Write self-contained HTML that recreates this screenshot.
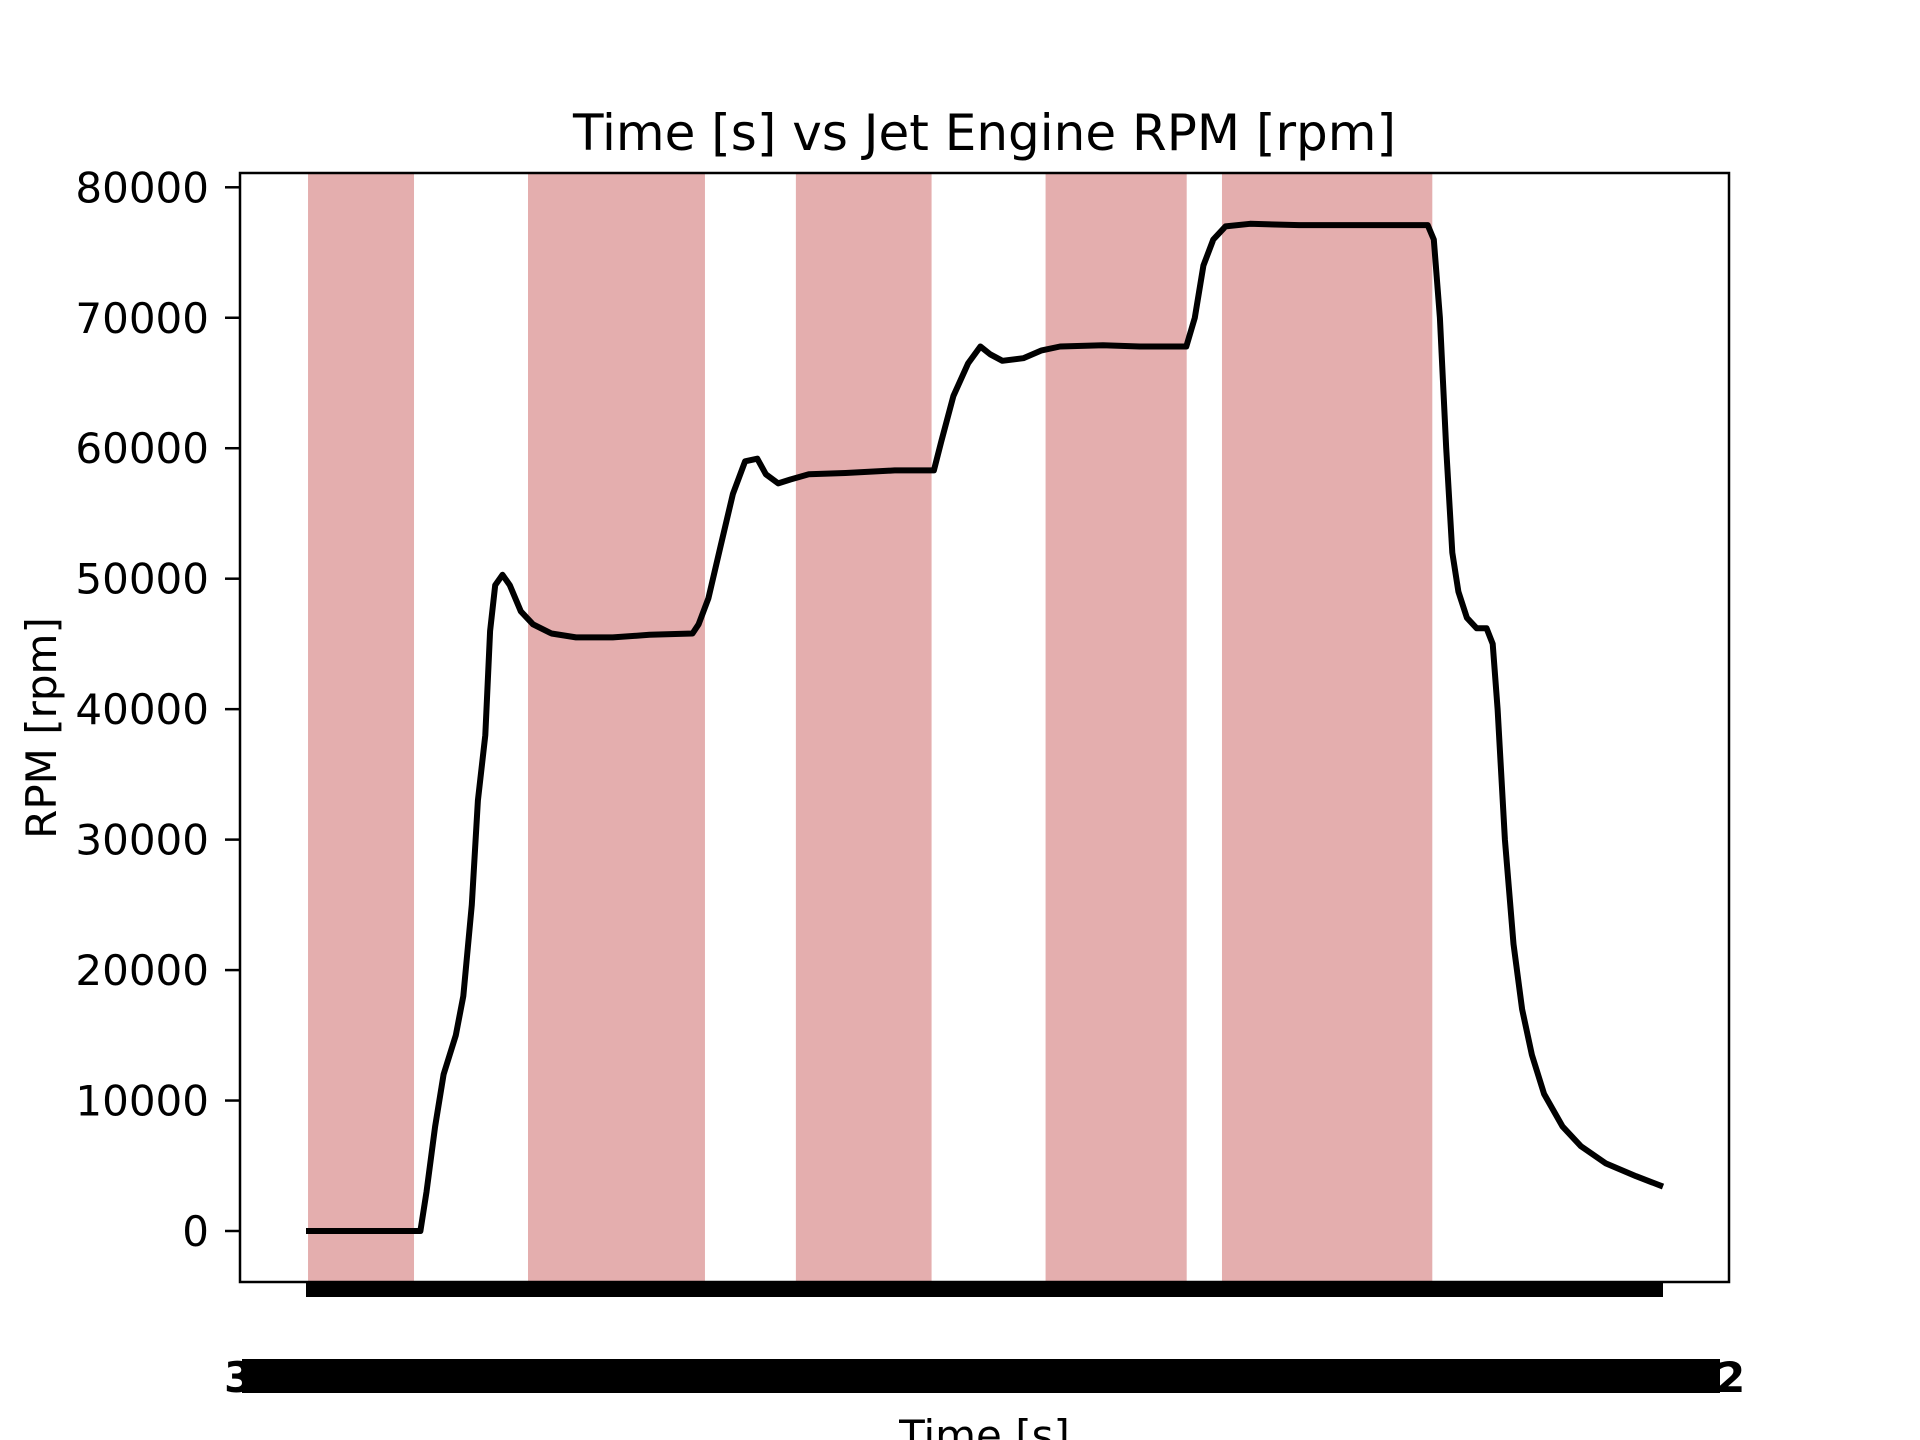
<!DOCTYPE html>
<html><head><meta charset="utf-8"><style>
html,body{margin:0;padding:0;background:#fff;}
svg{display:block;font-family:"DejaVu Sans","Liberation Sans",sans-serif;}
</style></head><body>
<svg id="chart" width="1920" height="1440" viewBox="0 0 1920 1440" xmlns="http://www.w3.org/2000/svg">
<rect width="1920" height="1440" fill="#fff"/>
<text x="984.5" y="150" font-size="50" text-anchor="middle" fill="#000">Time [s] vs Jet Engine RPM [rpm]</text>
<g id="bands"></g>
<g id="yaxis"></g>
<g id="series"></g>
<rect x="240" y="173" width="1489" height="1109" fill="none" stroke="#000" stroke-width="2.5"/>
<rect x="306" y="1283" width="1357" height="14" fill="#000"/>
<rect x="242" y="1359" width="1478" height="34" fill="#000"/>
<text x="224" y="1392" font-size="42" font-weight="bold" fill="#000">3</text>
<text x="1716" y="1392" font-size="42" font-weight="bold" fill="#000">2</text>
<text x="984.5" y="1450" font-size="42" text-anchor="middle" fill="#000">Time [s]</text>
<text transform="translate(56,728) rotate(-90)" font-size="42" text-anchor="middle" fill="#000">RPM [rpm]</text>
</svg>
<script>
const times = [0,8.43,8.88,9.51,10.14,11.04,11.59,12.22,12.67,13.21,13.57,13.94,14.48,15.02,15.83,16.73,18.09,19.90,22.61,25.31,28.48,28.93,29.65,30.55,31.46,32.36,33.26,33.89,34.80,35.70,37.05,39.76,43.38,46.27,46.81,47.71,48.79,49.70,50.42,51.32,52.86,54.21,55.57,58.73,61.44,64.87,65.50,66.13,66.86,67.76,69.57,73.18,76.79,81.31,82.66,83.11,83.56,84.02,84.47,84.92,85.55,86.27,87.00,87.45,87.81,88.35,88.98,89.62,90.34,91.24,92.60,93.95,95.76,98.02,100];
const rpm = [0,0,3000,8000,12000,15000,18000,25000,33000,38000,46000,49500,50300,49500,47500,46500,45800,45500,45500,45700,45800,46500,48500,52500,56500,59000,59200,58000,57300,57600,58000,58100,58300,58300,60500,64000,66500,67800,67200,66700,66900,67500,67800,67900,67800,67800,70000,74000,76000,77000,77200,77100,77100,77100,77100,76000,70000,60000,52000,49000,47000,46200,46200,45000,40000,30000,22000,17000,13500,10500,8000,6500,5200,4200,3400];
const bandStarts = [0.15,16.36,36.1,54.5,67.5];
const bandEnds = [7.96,29.40,46.1,64.9,83.0];
const yTicks = [0,10000,20000,30000,40000,50000,60000,70000,80000];

const NS = "http://www.w3.org/2000/svg";
function xScale(t){ return 306 + t * (1663 - 306) / 100; }
function yScale(v){ return 1231 - v * (1231 - 187.3) / 80000; }

const bandsG = document.getElementById('bands');
for (let i = 0; i < bandStarts.length; i++) {
  const r = document.createElementNS(NS, 'rect');
  r.setAttribute('x', xScale(bandStarts[i]));
  r.setAttribute('y', 174);
  r.setAttribute('width', xScale(bandEnds[i]) - xScale(bandStarts[i]));
  r.setAttribute('height', 1107);
  r.setAttribute('fill', '#e4aeae');
  
  
  bandsG.appendChild(r);
}

const yG = document.getElementById('yaxis');
yTicks.forEach(v => {
  const y = yScale(v);
  const l = document.createElementNS(NS, 'line');
  l.setAttribute('x1', 225); l.setAttribute('x2', 240);
  l.setAttribute('y1', y); l.setAttribute('y2', y);
  l.setAttribute('stroke', '#000'); l.setAttribute('stroke-width', 2.5);
  
  
  yG.appendChild(l);
  const t = document.createElementNS(NS, 'text');
  t.setAttribute('x', 209); t.setAttribute('y', y + 15);
  t.setAttribute('font-size', 42); t.setAttribute('text-anchor', 'end');
  t.textContent = String(v);
  
  
  yG.appendChild(t);
});

const pts = times.map((t, i) => xScale(t).toFixed(1) + ',' + yScale(rpm[i]).toFixed(1)).join(' ');
const pl = document.createElementNS(NS, 'polyline');
pl.setAttribute('points', pts);
pl.setAttribute('fill', 'none');
pl.setAttribute('stroke', '#000');
pl.setAttribute('stroke-width', 6);
pl.setAttribute('stroke-linejoin', 'round');


document.getElementById('series').appendChild(pl);
</script>
</body></html>
